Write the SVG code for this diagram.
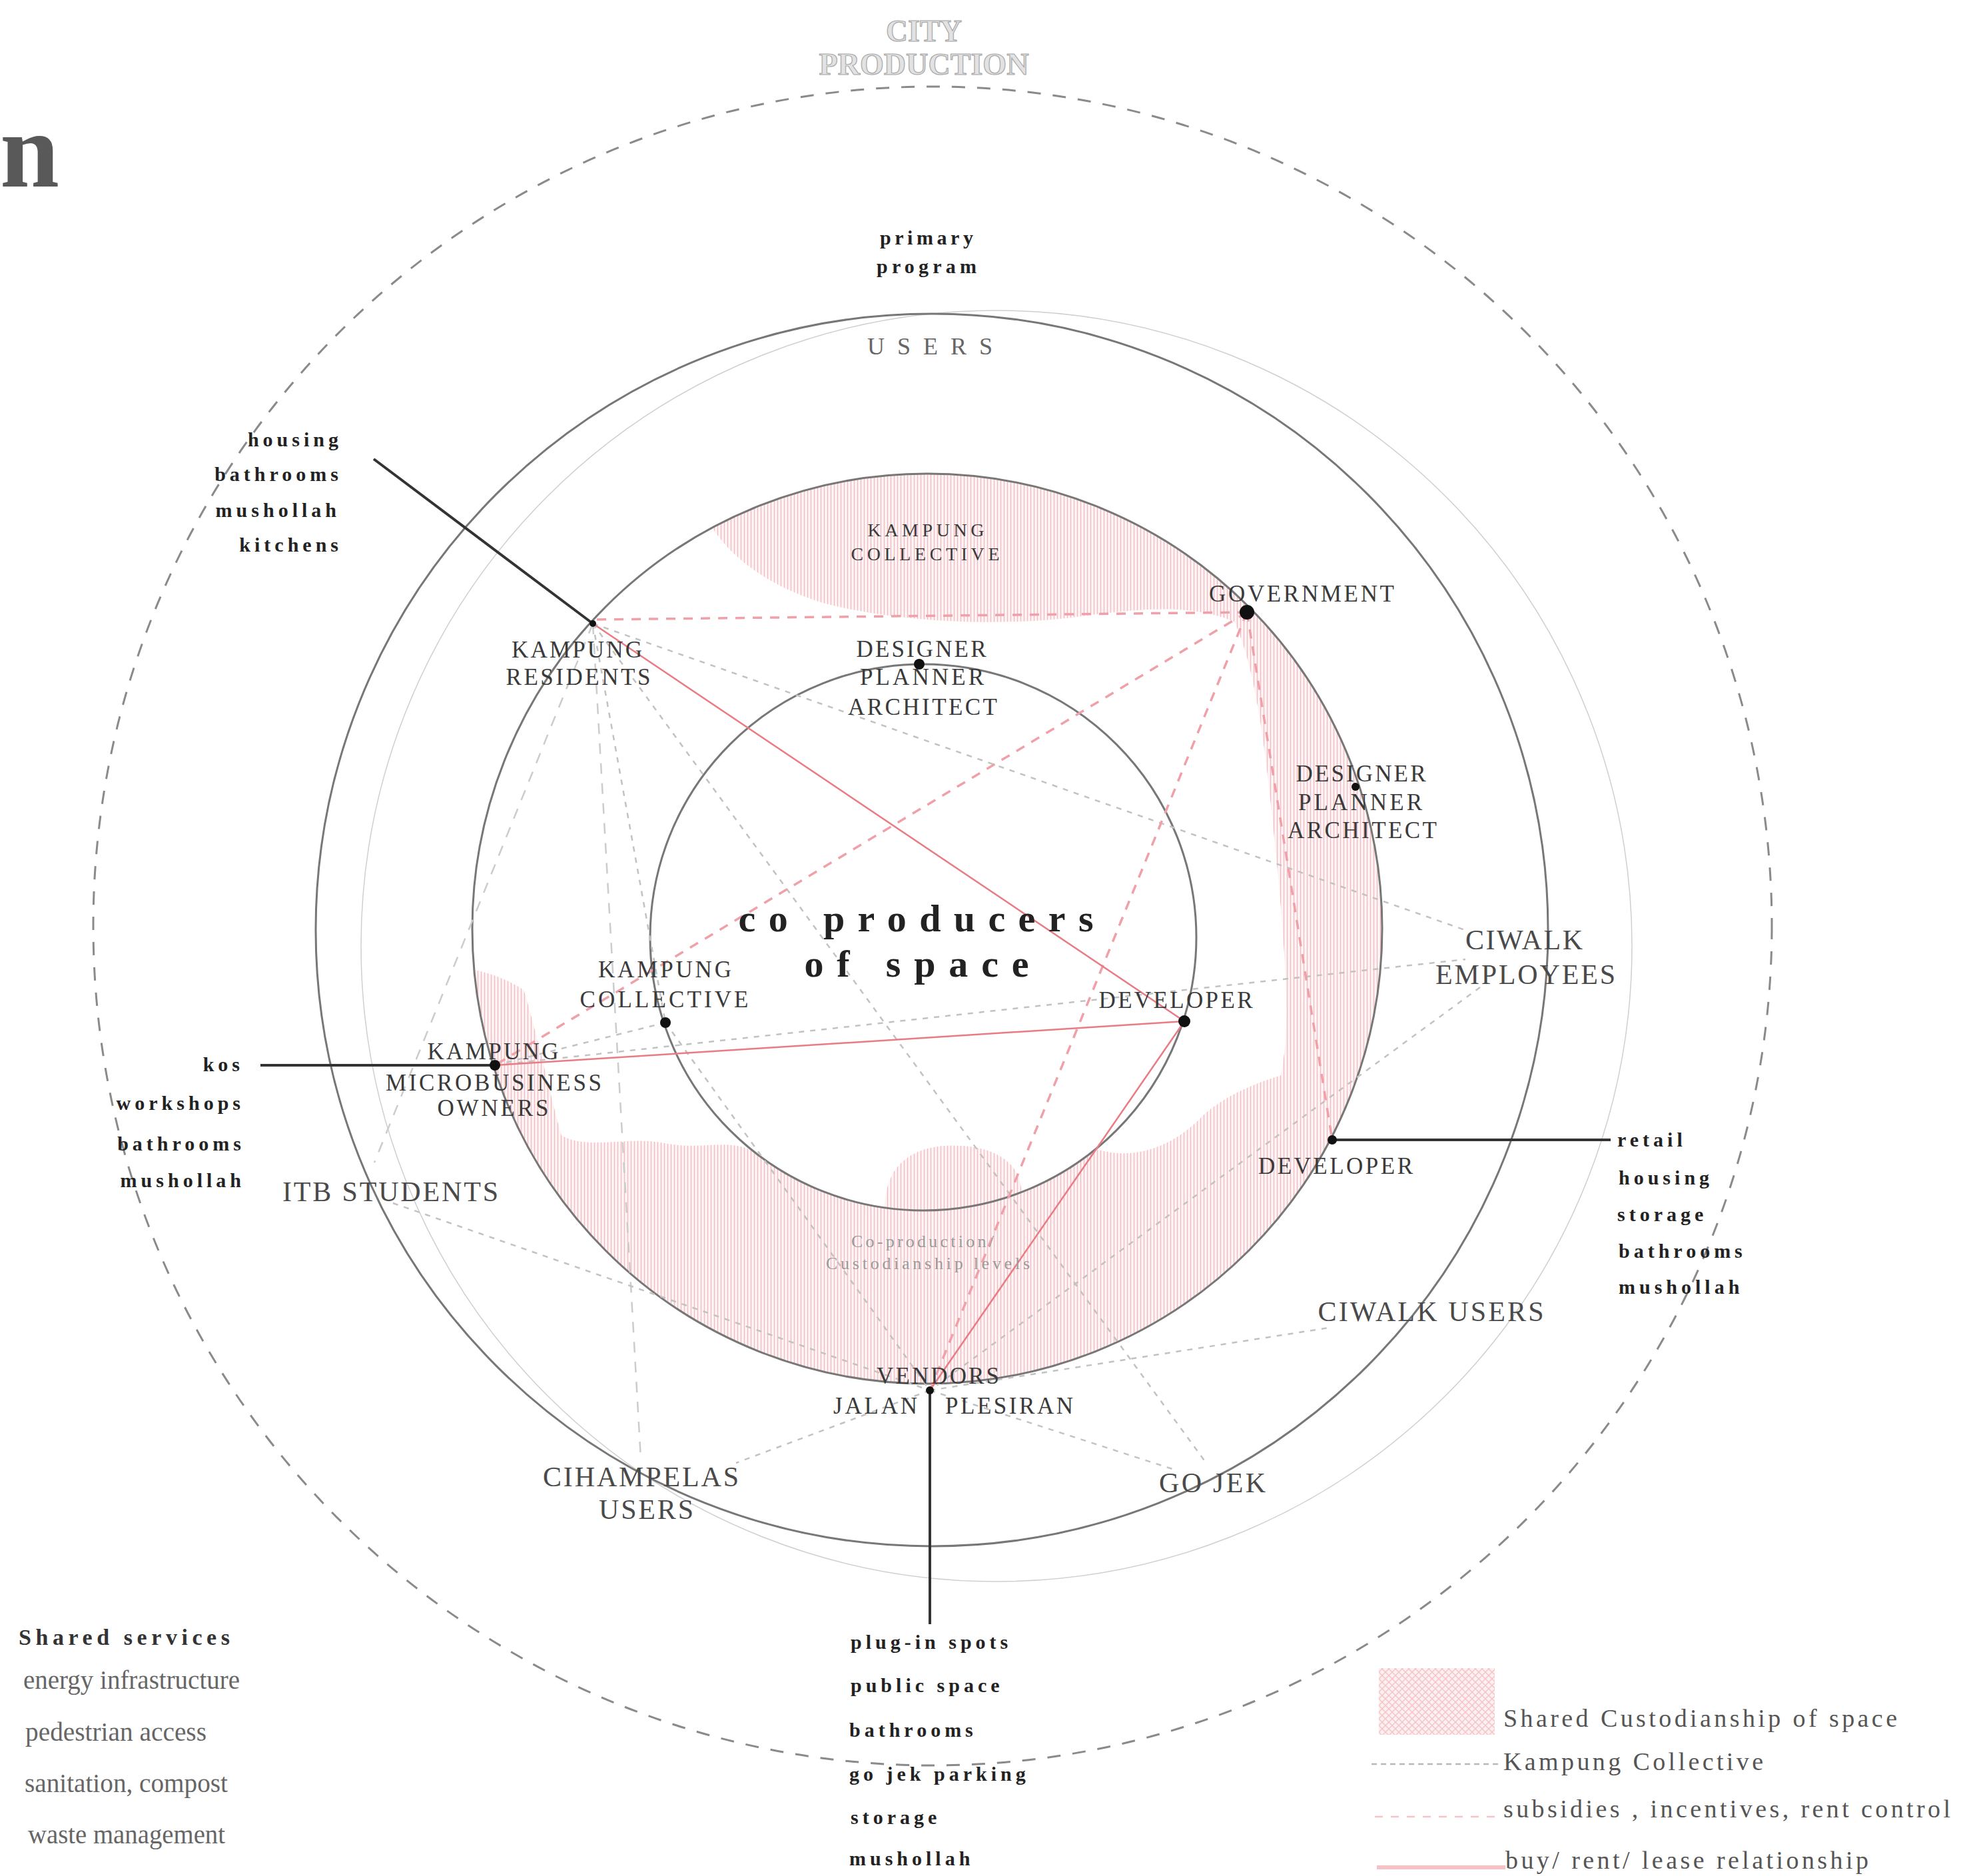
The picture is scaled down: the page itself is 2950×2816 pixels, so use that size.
<svg xmlns="http://www.w3.org/2000/svg" width="2950" height="2816" viewBox="0 0 2950 2816">
<defs>
<pattern id="hatch" patternUnits="userSpaceOnUse" width="5" height="6"><rect width="5" height="6" fill="#fdf4f5"/><path d="M2.5,0V6" stroke="#f4b9be" stroke-width="1.3"/></pattern>
<pattern id="hatch2" patternUnits="userSpaceOnUse" width="10" height="10"><rect width="10" height="10" fill="#fdf0f1"/><path d="M0,0L10,10M10,0L0,10" stroke="#f5c2c6" stroke-width="1.4"/></pattern>
</defs>
<style>
text{font-family:"Liberation Serif","Times New Roman",serif}
.lab{font-size:35px;fill:#3a3a3a;text-anchor:middle}
.sm{font-size:28px}
.usr{font-size:42px;fill:#4a4a4a;text-anchor:middle}
.prog{font-size:30px;font-weight:bold;letter-spacing:6px;fill:#222}
.end{text-anchor:end}
.svc{font-size:40px;fill:#666}
.leg{font-size:38px;fill:#555}
.ring{fill:none;stroke:#777;stroke-width:3}
.blk{stroke:#333;stroke-width:4;fill:none}
.red{stroke:#ea7b84;stroke-width:2.5;fill:none}
.rdash{stroke:#f0a0a8;stroke-width:3.5;stroke-dasharray:14 12;fill:none}
.kc{stroke:#c2c2c2;stroke-width:2.5;stroke-dasharray:8 9;fill:none}
.gd{stroke:#cccccc;stroke-width:2.5;stroke-dasharray:16 14;fill:none}
.dot{fill:#111}
</style>
<rect width="2950" height="2816" fill="#ffffff"/>

<!-- title fragment -->
<text x="0" y="280" font-size="160" font-weight="bold" fill="#595959">n</text>

<!-- shared custodianship hatched area -->
<g id="custodianship">
<circle cx="1392" cy="1394" r="683" fill="url(#hatch)"/>
<path transform="scale(1.8814)" fill="#ffffff" d="M200,200 L558,200 L558,400 C572,440 612,468 660,482 C720,497 800,500 860,492 C915,485 950,482 985,496 C1005,540 1012,620 1020,700 C1026,770 1030,820 1022,858 C995,866 972,878 958,892 C935,915 905,926 875,917 A218,218 0 0 1 815,952 C815,925 790,914 760,914 C730,914 706,928 706,964 A218,218 0 0 1 600,918 C580,908 560,918 530,912 C500,906 470,918 448,906 C438,870 430,830 418,790 C400,778 380,772 350,770 L200,770 Z"/>
</g>

<!-- rings -->
<g id="rings">
<circle cx="1400" cy="1390" r="1260" fill="none" stroke="#8a8a8a" stroke-width="3" stroke-dasharray="20 18"/>
<circle cx="1496" cy="1420" r="954" fill="none" stroke="#cfcfcf" stroke-width="1.5"/>
<circle class="ring" cx="1399" cy="1396" r="925"/>
<circle class="ring" cx="1392" cy="1394" r="683"/>
<circle class="ring" cx="1386" cy="1407" r="410" stroke="#666"/>
</g>

<!-- connectors -->
<g id="connectors">
<line class="gd" x1="890" y1="936" x2="962" y2="2190"/>
<line class="gd" x1="890" y1="936" x2="562" y2="1745"/>
<line class="kc" x1="890" y1="936" x2="2205" y2="1398"/>
<line class="kc" x1="890" y1="936" x2="999" y2="1535"/>
<line class="kc" x1="890" y1="936" x2="1810" y2="2195"/>
<line class="kc" x1="743" y1="1599" x2="2200" y2="1440"/>
<line class="kc" x1="999" y1="1535" x2="743" y2="1599"/>
<line class="kc" x1="999" y1="1535" x2="1396" y2="2087"/>
<line class="kc" x1="590" y1="1806" x2="1396" y2="2087"/>
<line class="kc" x1="1396" y1="2087" x2="1105" y2="2196"/>
<line class="kc" x1="1396" y1="2087" x2="1760" y2="2205"/>
<line class="kc" x1="1396" y1="2087" x2="1995" y2="1993"/>
<line class="kc" x1="2222" y1="1482" x2="1396" y2="2087"/>

<line class="rdash" x1="1872" y1="919" x2="896" y2="930"/>
<line class="rdash" x1="1872" y1="919" x2="743" y2="1599"/>
<line class="rdash" x1="1872" y1="919" x2="1396" y2="2087"/>
<line class="rdash" x1="1872" y1="919" x2="2000" y2="1711"/>

<line class="red" x1="890" y1="936" x2="1778" y2="1533"/>
<line class="red" x1="743" y1="1599" x2="1778" y2="1533" stroke="#f09aa1" stroke-width="5"/>
<line class="red" x1="1778" y1="1533" x2="1396" y2="2087"/>

<line class="blk" x1="561" y1="689" x2="890" y2="936"/>
<line class="blk" x1="391" y1="1599" x2="743" y2="1599" stroke="#666" stroke-width="6"/>
<line class="blk" x1="2000" y1="1711" x2="2418" y2="1711"/>
<line class="blk" x1="1396" y1="2087" x2="1396" y2="2438"/>
</g>

<!-- headings -->
<g id="city-production">
<text x="1387" y="62" font-size="46" font-weight="bold" fill="#e2e2e2" stroke="#a8a8a8" stroke-width="1.2" text-anchor="middle" textLength="114" lengthAdjust="spacingAndGlyphs">CITY</text>
<text x="1387" y="112" font-size="46" font-weight="bold" fill="#e2e2e2" stroke="#a8a8a8" stroke-width="1.2" text-anchor="middle" textLength="315" lengthAdjust="spacingAndGlyphs">PRODUCTION</text>
</g>
<g id="primary-program">
<text class="prog" x="1394" y="367" text-anchor="middle" textLength="146">primary</text>
<text class="prog" x="1394" y="410" text-anchor="middle" textLength="156">program</text>
</g>
<g id="users-title"><text x="1396" y="532" font-size="36" fill="#666" text-anchor="middle" textLength="188">USERS</text></g>
<g id="co-producers">
<text x="1375" y="1398" font-size="58" font-weight="bold" fill="#222" text-anchor="middle" textLength="533">co producers</text>
<text x="1376" y="1466" font-size="58" font-weight="bold" fill="#222" text-anchor="middle" textLength="337">of space</text>
</g>

<!-- nodes -->
<g id="node-kampung-collective-top">
<text class="lab sm" x="1390" y="805" textLength="175">KAMPUNG</text>
<text class="lab sm" x="1389" y="841" textLength="223">COLLECTIVE</text>
</g>
<g id="node-government">
<circle class="dot" cx="1872" cy="919" r="11"/>
<text class="lab" x="1954" y="903" textLength="278">GOVERNMENT</text>
</g>
<g id="node-designer-inner">
<circle class="dot" cx="1380" cy="997" r="8"/>
<text class="lab" x="1383" y="986" textLength="195">DESIGNER</text>
<text class="lab" x="1384" y="1028" textLength="186">PLANNER</text>
<text class="lab" x="1385" y="1073" textLength="224">ARCHITECT</text>
</g>
<g id="node-designer-outer">
<circle class="dot" cx="2035" cy="1181" r="6"/>
<text class="lab" x="2043" y="1173" textLength="195">DESIGNER</text>
<text class="lab" x="2042" y="1216" textLength="186">PLANNER</text>
<text class="lab" x="2045" y="1258" textLength="224">ARCHITECT</text>
</g>
<g id="node-kampung-residents">
<circle class="dot" cx="890" cy="936" r="5"/>
<text class="lab" x="866" y="987" textLength="196">KAMPUNG</text>
<text class="lab" x="868" y="1028" textLength="217">RESIDENTS</text>
</g>
<g id="node-kampung-collective">
<circle class="dot" cx="999" cy="1535" r="8"/>
<text class="lab" x="998" y="1467" textLength="200">KAMPUNG</text>
<text class="lab" x="997" y="1512" textLength="253">COLLECTIVE</text>
</g>
<g id="node-developer-inner">
<circle class="dot" cx="1778" cy="1533" r="9"/>
<text class="lab" x="1765" y="1513" textLength="231">DEVELOPER</text>
</g>
<g id="node-microbusiness">
<circle class="dot" cx="743" cy="1599" r="8"/>
<text class="lab" x="740" y="1590" textLength="197">KAMPUNG</text>
<text class="lab" x="741" y="1637" textLength="324">MICROBUSINESS</text>
<text class="lab" x="740" y="1675" textLength="167">OWNERS</text>
</g>
<g id="node-developer-outer">
<circle class="dot" cx="2000" cy="1711" r="7"/>
<text class="lab" x="2005" y="1762" textLength="232">DEVELOPER</text>
</g>
<g id="node-vendors">
<circle class="dot" cx="1396" cy="2087" r="6"/>
<text class="lab" x="1408" y="2077" textLength="184">VENDORS</text>
<text class="lab" x="1314" y="2122" textLength="126">JALAN</text>
<text class="lab" x="1515" y="2122" textLength="192">PLESIRAN</text>
</g>
<g id="label-custodianship-levels">
<text x="1385" y="1872" font-size="26" fill="#9a9a9a" text-anchor="middle" textLength="214">Co-production/</text>
<text x="1393" y="1905" font-size="26" fill="#9a9a9a" text-anchor="middle" textLength="306">Custodianship levels</text>
</g>
<g id="node-ciwalk-employees">
<text class="usr" x="2288" y="1425" textLength="176">CIWALK</text>
<text class="usr" x="2290" y="1477" textLength="270">EMPLOYEES</text>
</g>
<g id="node-itb"><text class="usr" x="586" y="1803" textLength="324">ITB STUDENTS</text></g>
<g id="node-ciwalk-users"><text class="usr" x="2148" y="1983" textLength="339">CIWALK USERS</text></g>
<g id="node-cihampelas">
<text class="usr" x="962" y="2231" textLength="294">CIHAMPELAS</text>
<text class="usr" x="970" y="2280" textLength="142">USERS</text>
</g>
<g id="node-gojek"><text class="usr" x="1820" y="2240" textLength="160">GO JEK</text></g>

<!-- program lists -->
<g id="program-residents">
<text class="prog end" x="514" y="670">housing</text>
<text class="prog end" x="514" y="722">bathrooms</text>
<text class="prog end" x="511" y="776">mushollah</text>
<text class="prog end" x="514" y="828">kitchens</text>
</g>
<g id="program-microbusiness">
<text class="prog end" x="366" y="1608">kos</text>
<text class="prog end" x="367" y="1666">workshops</text>
<text class="prog end" x="368" y="1727">bathrooms</text>
<text class="prog end" x="368" y="1782">mushollah</text>
</g>
<g id="program-developer">
<text class="prog" x="2428" y="1721">retail</text>
<text class="prog" x="2430" y="1778">housing</text>
<text class="prog" x="2428" y="1833">storage</text>
<text class="prog" x="2430" y="1888">bathrooms</text>
<text class="prog" x="2430" y="1942">mushollah</text>
</g>
<g id="program-vendors">
<text class="prog" x="1277" y="2475">plug-in spots</text>
<text class="prog" x="1277" y="2540">public space</text>
<text class="prog" x="1275" y="2607">bathrooms</text>
<text class="prog" x="1275" y="2673">go jek parking</text>
<text class="prog" x="1277" y="2738">storage</text>
<text class="prog" x="1275" y="2800">mushollah</text>
</g>

<!-- shared services -->
<g id="shared-services">
<text x="28" y="2469" font-size="34" font-weight="bold" fill="#333" textLength="317">Shared services</text>
<text class="svc" x="35" y="2535" textLength="325" lengthAdjust="spacingAndGlyphs">energy infrastructure</text>
<text class="svc" x="38" y="2613" textLength="272" lengthAdjust="spacingAndGlyphs">pedestrian access</text>
<text class="svc" x="37" y="2690" textLength="305" lengthAdjust="spacingAndGlyphs">sanitation, compost</text>
<text class="svc" x="42" y="2767" textLength="296" lengthAdjust="spacingAndGlyphs">waste management</text>
</g>

<!-- legend -->
<g id="legend">
<rect x="2070" y="2504" width="174" height="100" fill="url(#hatch2)"/>
<text class="leg" x="2257" y="2592" textLength="591">Shared Custodianship of space</text>
<line x1="2059" y1="2648" x2="2251" y2="2648" stroke="#b8b8b8" stroke-width="2.5" stroke-dasharray="8 6"/>
<text class="leg" x="2257" y="2657" textLength="390">Kampung Collective</text>
<line x1="2064" y1="2727" x2="2251" y2="2727" stroke="#f5c4c8" stroke-width="2.5" stroke-dasharray="12 12"/>
<text class="leg" x="2257" y="2728" textLength="671">subsidies , incentives, rent control</text>
<line x1="2067" y1="2803" x2="2260" y2="2803" stroke="#f5c2c6" stroke-width="6"/>
<text class="leg" x="2260" y="2805" textLength="545">buy/ rent/ lease relationship</text>
</g>
</svg>
